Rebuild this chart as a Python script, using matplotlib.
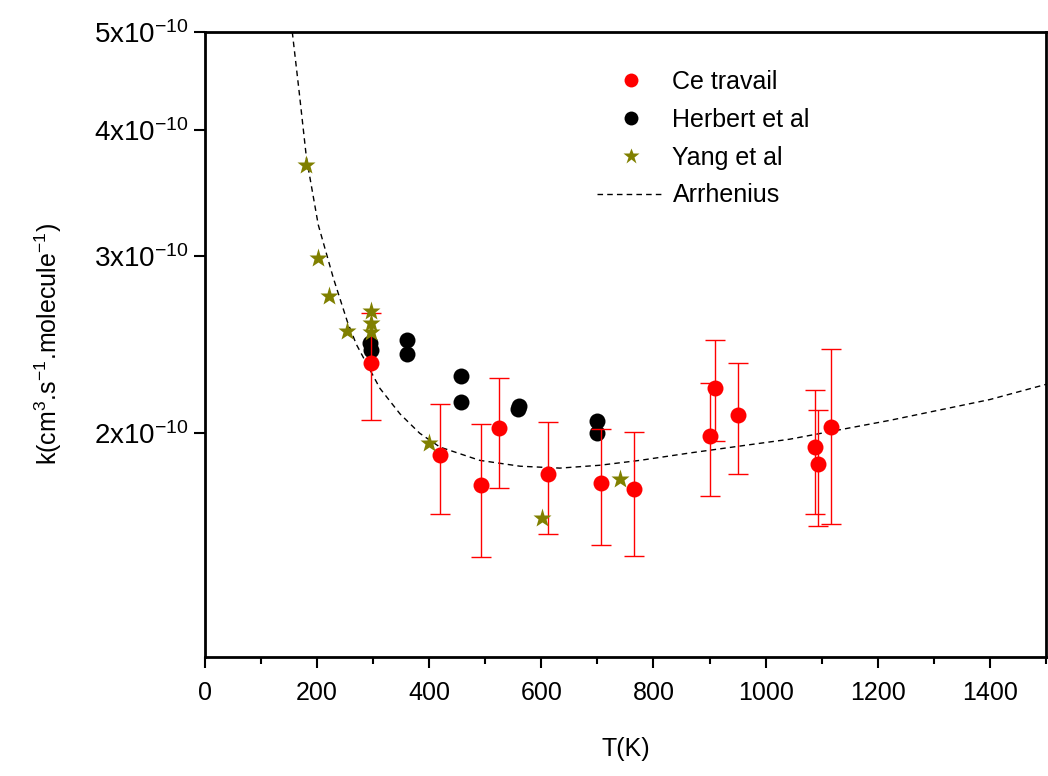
import matplotlib.pyplot as plt
import matplotlib.ticker as mticker
from matplotlib.lines import Line2D
from matplotlib import rcParams
rcParams['font.family'] = ['Liberation Sans', 'DejaVu Sans']
rcParams['mathtext.fontset'] = 'custom'
rcParams['mathtext.rm'] = 'Liberation Sans'
rcParams['mathtext.it'] = 'Liberation Sans'

# Ce travail (avec barres d'erreur)
T_ce = [297, 420, 492, 524, 612, 707, 765, 901, 910, 951, 1089, 1094, 1116]
k_ce = [2.347, 1.903, 1.776, 2.022, 1.821, 1.787, 1.759, 1.989, 2.22, 2.084, 1.936, 1.863, 2.029]
k_ce_haut = [2.63, 2.14, 2.045, 2.27, 2.054, 2.02, 2.005, 2.244, 2.474, 2.347, 2.206, 2.111, 2.423]
k_ce_bas = [2.06, 1.664, 1.507, 1.765, 1.588, 1.551, 1.511, 1.734, 1.964, 1.821, 1.664, 1.617, 1.627]

# Herbert et al
T_her = [295, 297, 360, 360, 457, 457, 559, 560, 699, 699]
k_her = [2.46, 2.42, 2.474, 2.396, 2.278, 2.147, 2.115, 2.13, 2.057, 1.999]

# Yang et al
T_yang = [180, 201, 221, 254, 297, 297, 297, 400, 602, 740]
k_yang = [3.69, 2.984, 2.738, 2.527, 2.646, 2.57, 2.52, 1.958, 1.649, 1.80]

# courbe Arrhenius
T_arr = [155.7, 168, 181, 202, 229, 254, 270, 291, 312, 348, 383, 419, 490, 562, 633,
         704, 776, 865, 1043, 1222, 1400, 1500]
k_arr = [5.0, 4.36, 3.75, 3.22, 2.85, 2.58, 2.45, 2.33, 2.216, 2.09, 2.0, 1.938, 1.88, 1.855, 1.847,
         1.859, 1.88, 1.912, 1.973, 2.06, 2.16, 2.236]

e = 1e-10
fig = plt.figure(figsize=(10.48, 7.76), dpi=100)
ax = fig.add_axes([0.1956, 0.1534, 0.8024, 0.8054])

ax.plot(T_arr, [v * e for v in k_arr], color='black', lw=1, linestyle=(0, (4, 3)), zorder=1)
ax.plot(T_her, [v * e for v in k_her], 'o', color='black', ms=11.5, mec='none', zorder=2)
yerr = [[(a - b) * e for a, b in zip(k_ce, k_ce_bas)], [(c - a) * e for a, c in zip(k_ce, k_ce_haut)]]
ax.errorbar(T_ce, [v * e for v in k_ce], yerr=yerr, fmt='o', color='red', ms=11.5, mec='none',
            ecolor='red', elinewidth=1, capsize=7, capthick=1, zorder=3)
ax.plot(T_yang, [v * e for v in k_yang], '*', color='#808000', ms=14, mec='none', zorder=4)

ax.set_yscale('log')
ax.set_xlim(0, 1500)
ax.set_ylim(1.2e-10, 5e-10)
ax.yaxis.set_major_locator(mticker.FixedLocator([2e-10, 3e-10, 4e-10, 5e-10]))
ax.yaxis.set_major_formatter(mticker.FixedFormatter([r'2x10$^{-10}$', r'3x10$^{-10}$', r'4x10$^{-10}$', r'5x10$^{-10}$']))
ax.yaxis.set_minor_locator(mticker.NullLocator())
ax.xaxis.set_major_locator(mticker.MultipleLocator(200))
ax.xaxis.set_minor_locator(mticker.MultipleLocator(100))
ax.tick_params(which='major', direction='out', length=8, width=1.5, labelsize=18)
ax.tick_params(axis='x', pad=9)
ax.tick_params(axis='y', labelsize=20)
ax.tick_params(which='minor', direction='out', length=5, width=1.5)
for s in ax.spines.values():
    s.set_linewidth(2)

ax.set_xlabel('T(K)', fontsize=18, labelpad=23)
ax.set_ylabel(r'k(cm$^3$.s$^{-1}$.molecule$^{-1}$)', fontsize=18, labelpad=22)

# legende
poignees = [
    Line2D([], [], ls='none', marker='o', color='red', ms=10, mec='none'),
    Line2D([], [], ls='none', marker='o', color='black', ms=10, mec='none'),
    Line2D([], [], ls='none', marker='*', color='#808000', ms=12, mec='none'),
    Line2D([], [], color='black', lw=1, linestyle=(0, (4, 3))),
]
ax.legend(poignees, ['Ce travail', 'Herbert et al', 'Yang et al', 'Arrhenius'], loc='upper left',
          bbox_to_anchor=(0.44, 0.975), frameon=False, fontsize=18, numpoints=1,
          handlelength=2.7, handletextpad=0.3, labelspacing=0.55)

plt.savefig('out.png', dpi=100)
